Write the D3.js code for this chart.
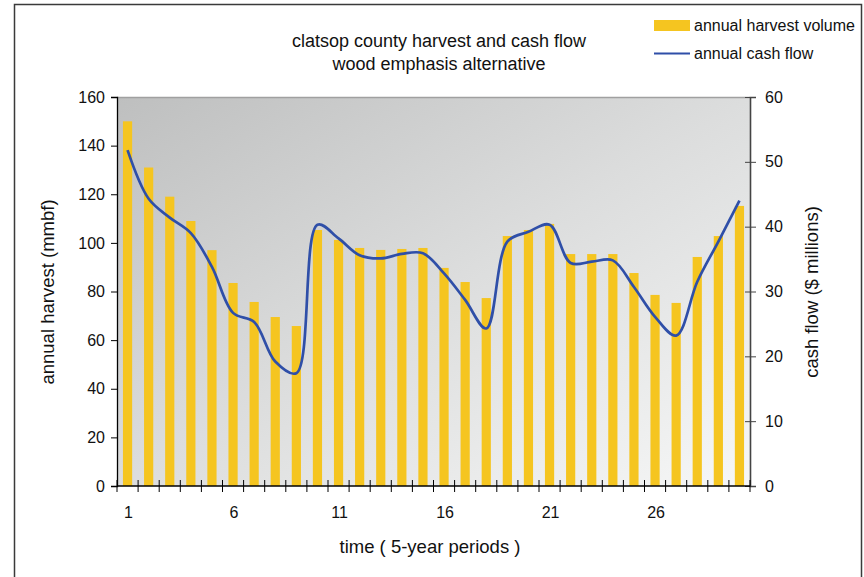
<!DOCTYPE html>
<html><head><meta charset="utf-8">
<script src="https://cdn.jsdelivr.net/npm/d3@7"></script>
<style>body{margin:0;background:#fff}svg{display:block;font-family:"Liberation Sans",Arial,sans-serif}</style>
</head><body><svg id="c" width="864" height="577"></svg>
<script>
const periods = d3.range(1, 31);
const harvest = [150,131,119,109,97,83.5,75.7,69.5,65.8,105.3,101.2,97.9,97.1,97.5,97.9,89.7,83.9,77.3,102.8,105.3,107.8,95.4,95.4,95.4,87.6,78.6,75.3,94.2,102.8,115.2];
const cashFlow = [51.8,44.3,41.4,39.0,33.8,26.7,25.3,19.2,17.4,40.3,38.2,35.6,35.1,35.8,35.9,32.8,28.7,24.3,37.7,39.2,40.3,34.4,34.6,34.8,30.7,26.1,23.2,31.5,37.7,44.0];
const xTickLabels = [1,6,11,16,21,26];
const leftTicks = [0,20,40,60,80,100,120,140,160];
const rightTicks = [0,10,20,30,40,50,60];
const titleLines = ["clatsop county harvest and cash flow","wood emphasis alternative"];

const svg = d3.select("#c");
const L=117, R=750, T=97, B=486;

// frame
svg.append("path").attr("d",`M14.5,580 V4.5 H861.5 V580`).attr("fill","none").attr("stroke","#3a3a3a").attr("stroke-width",1.5);

const defs = svg.append("defs");
const g = defs.append("linearGradient").attr("id","bg").attr("x1","0").attr("y1","0").attr("x2","1").attr("y2","1");
g.append("stop").attr("offset","0").attr("stop-color","#bebfbf");
g.append("stop").attr("offset","0.5").attr("stop-color","#dcdddd");
g.append("stop").attr("offset","1").attr("stop-color","#f6f7f7");

svg.append("rect").attr("x",L).attr("y",T).attr("width",R-L).attr("height",B-T).attr("fill","url(#bg)");
svg.append("line").attr("x1",L).attr("x2",R).attr("y1",T+0.5).attr("y2",T+0.5).attr("stroke","#a0a0a0").attr("stroke-width",1.5);

const xc = d3.scaleBand().domain(periods).range([L,R]);
const yL = d3.scaleLinear().domain([0,160]).range([B,T]);
const yR = d3.scaleLinear().domain([0,60]).range([B,T]);

svg.append("g").selectAll("rect").data(harvest).join("rect")
  .attr("x",(d,i)=>xc(periods[i])+xc.bandwidth()/2-4.6)
  .attr("width",9.2)
  .attr("y",d=>yL(d)).attr("height",d=>B-yL(d))
  .attr("fill","#f5c520");

const line = d3.line().x((d,i)=>xc(periods[i])+xc.bandwidth()/2).y(d=>yR(d)).curve(d3.curveCatmullRom.alpha(0.5));
svg.append("path").datum(cashFlow).attr("d",line).attr("fill","none").attr("stroke","#2f4fa8").attr("stroke-width",2.7);

// left axis
const la = svg.append("g").attr("transform",`translate(${L},0)`)
  .call(d3.axisLeft(yL).tickValues(leftTicks).tickSize(6).tickPadding(6));
la.select(".domain").attr("stroke","#000").attr("stroke-width",1.3);
la.selectAll(".tick line").attr("stroke","#000");
la.selectAll("text").attr("font-size",16).attr("fill","#111").attr("font-family","Liberation Sans, Arial");

// right axis
const ra = svg.append("g").attr("transform",`translate(${R},0)`)
  .call(d3.axisRight(yR).tickValues(rightTicks).tickSize(6).tickPadding(9));
ra.select(".domain").attr("stroke","#444").attr("stroke-width",1.6);
ra.selectAll(".tick line").attr("stroke","#444").attr("x1",-5);
ra.selectAll("text").attr("font-size",16).attr("fill","#111").attr("font-family","Liberation Sans, Arial");

// bottom axis
const boundaries = d3.range(0,31).map(i=>L+i*xc.step());
const ba = svg.append("g");
ba.append("line").attr("x1",L).attr("x2",R).attr("y1",B).attr("y2",B).attr("stroke","#000").attr("stroke-width",1.3);
ba.selectAll("line.t").data(boundaries).join("line").attr("class","t")
  .attr("x1",d=>d).attr("x2",d=>d).attr("y1",B-6).attr("y2",B+6).attr("stroke","#000").attr("stroke-width",1);
ba.selectAll("text").data(xTickLabels).join("text")
  .attr("x",d=>xc(d)+xc.bandwidth()/2+1).attr("y",B+32).attr("text-anchor","middle")
  .attr("font-size",16).attr("fill","#111").text(d=>d);

// titles
svg.append("g").selectAll("text").data(titleLines).join("text")
  .attr("x",439).attr("y",(d,i)=>47+i*23).attr("text-anchor","middle").attr("font-size",18).attr("fill","#111").text(d=>d);

svg.append("text").attr("transform","translate(54,292) rotate(-90)").attr("text-anchor","middle").attr("font-size",18.5).attr("fill","#111").text("annual harvest (mmbf)");
svg.append("text").attr("transform","translate(818,292) rotate(-90)").attr("text-anchor","middle").attr("font-size",18.5).attr("fill","#111").text("cash flow ($ millions)");
svg.append("text").attr("x",430).attr("y",553).attr("text-anchor","middle").attr("font-size",18.5).attr("fill","#111").text("time ( 5-year periods )");

// legend
const lg = svg.append("g");
lg.append("rect").attr("x",654).attr("y",20).attr("width",36).attr("height",11).attr("fill","#f5c520");
lg.append("line").attr("x1",654).attr("x2",690).attr("y1",53.5).attr("y2",53.5).attr("stroke","#2f4fa8").attr("stroke-width",2);
lg.append("text").attr("x",694).attr("y",31).attr("font-size",16).attr("fill","#111").text("annual harvest volume");
lg.append("text").attr("x",694).attr("y",59).attr("font-size",16).attr("fill","#111").text("annual cash flow");
</script></body></html>
